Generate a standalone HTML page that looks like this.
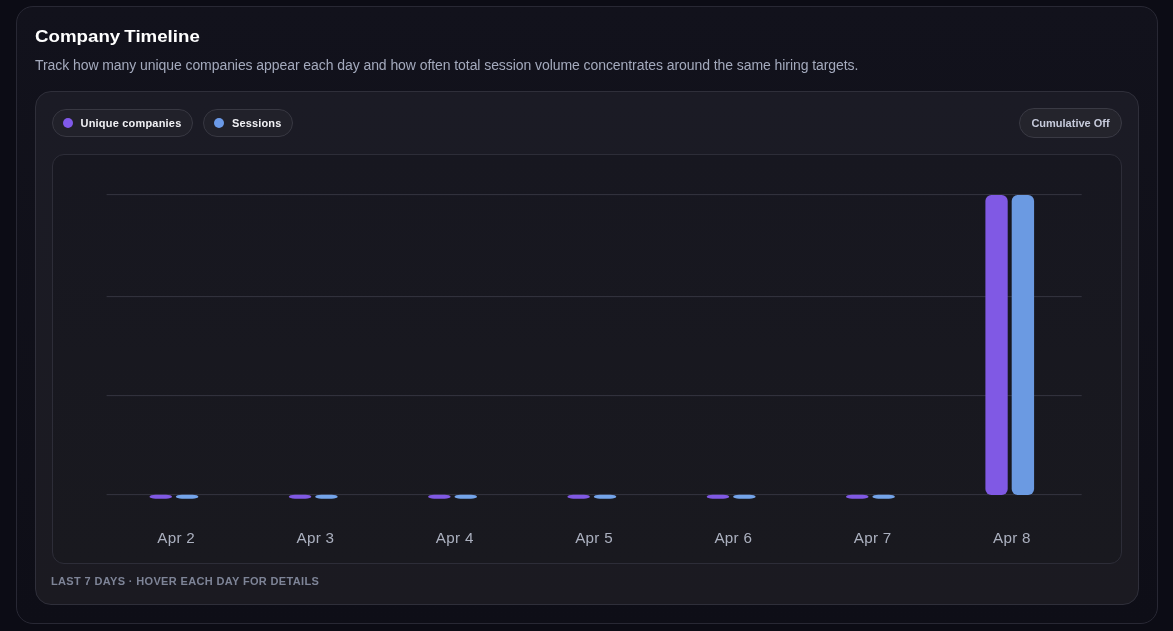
<!DOCTYPE html>
<html>
<head>
<meta charset="utf-8">
<style>
  html, body { margin: 0; padding: 0; }
  body {
    width: 1173px; height: 631px; overflow: hidden;
    background: #0c0c15;
    font-family: "Liberation Sans", sans-serif;
    position: relative;
  }
  .title, .sub, .pill, .btn, .foot, svg { will-change: transform; }
  .outer {
    position: absolute; left: 16px; top: 6px;
    width: 1142px; height: 618px; box-sizing: border-box;
    border: 1px solid #282834; border-radius: 17px;
    background: linear-gradient(180deg, #12121c 0%, #0e0e17 100%);
  }
  .title {
    position: absolute; left: 34.5px; top: 25.5px;
    font-size: 17px; font-weight: 700; color: #ffffff;
    letter-spacing: 0; transform: scaleX(1.1); word-spacing: -1px; transform-origin: 0 0; line-height: 22px; white-space: nowrap;
  }
  .sub {
    position: absolute; left: 35px; top: 57px;
    font-size: 14px; color: #a4aabd; letter-spacing: -0.07px;
    line-height: 17px; white-space: nowrap;
  }
  .inner {
    position: absolute; left: 35px; top: 91px;
    width: 1104px; height: 514px; box-sizing: border-box;
    border: 1px solid #2f2f3a; border-radius: 16px;
    background: linear-gradient(180deg, #1b1b25 0%, #1b1a21 100%);
  }
  .pill {
    position: absolute; top: 109px; height: 28px; box-sizing: border-box;
    border: 1px solid #383842; border-radius: 14px; background: #21212a;
    font-size: 11px; font-weight: 700; color: #f2f2f6; white-space: nowrap;
  }
  .pill .dot { position: absolute; top: 8px; width: 10px; height: 10px; border-radius: 50%; }
  .pill .lbl { position: absolute; top: 0; line-height: 26px; }
  .btn {
    position: absolute; left: 1019px; top: 108px; width: 103px; height: 30px; box-sizing: border-box;
    border: 1px solid #3a3a44; border-radius: 15px; background: #24242c;
    font-size: 11px; font-weight: 700; color: #c6cadb; white-space: nowrap;
    text-align: center; line-height: 28px;
  }
  .chart {
    position: absolute; left: 52px; top: 154px;
    width: 1070px; height: 410px; box-sizing: border-box;
    border: 1px solid #2d2d38; border-radius: 12px;
    background: linear-gradient(180deg, #171720 0%, #19191f 100%);
  }
  svg { position: absolute; left: 0; top: 0; }
  .foot {
    position: absolute; left: 51px; top: 575px;
    font-size: 11px; font-weight: 700; color: #7e8497; letter-spacing: 0.35px;
    line-height: 13px; white-space: nowrap;
  }
</style>
</head>
<body>
  <div class="outer"></div>
  <div class="title">Company Timeline</div>
  <div class="sub">Track how many unique companies appear each day and how often total session volume concentrates around the same hiring targets.</div>
  <div class="inner"></div>

  <div class="pill" style="left:52px;width:141px;">
    <span class="dot" style="left:10px;background:#8059ea;"></span>
    <span class="lbl" style="left:27.5px;letter-spacing:0.2px;">Unique companies</span>
  </div>
  <div class="pill" style="left:203px;width:90px;">
    <span class="dot" style="left:10px;background:#6b9ae8;"></span>
    <span class="lbl" style="left:28px;letter-spacing:0.15px;">Sessions</span>
  </div>
  <div class="btn">Cumulative Off</div>

  <div class="chart"></div>

  <svg width="1173" height="631" viewBox="0 0 1173 631">
    <g stroke="#34343f" stroke-width="1">
      <line x1="106.6" y1="194.6" x2="1081.7" y2="194.6"/>
      <line x1="106.6" y1="296.6" x2="1081.7" y2="296.6"/>
      <line x1="106.6" y1="395.6" x2="1081.7" y2="395.6"/>
      <line x1="106.6" y1="494.6" x2="1081.7" y2="494.6"/>
    </g>
    <g id="bars"></g>
    <g font-family="Liberation Sans" font-size="15.2" fill="#abb0bf" letter-spacing="0.3" text-anchor="middle">
      <text x="176.15" y="543.2">Apr 2</text>
      <text x="315.45" y="543.2">Apr 3</text>
      <text x="454.75" y="543.2">Apr 4</text>
      <text x="594.05" y="543.2">Apr 5</text>
      <text x="733.35" y="543.2">Apr 6</text>
      <text x="872.65" y="543.2">Apr 7</text>
      <text x="1011.95" y="543.2">Apr 8</text>
    </g>
    <g>
      <rect x="149.5" y="494.7" width="22.5" height="4" rx="6" fill="#8059e4"/>
      <rect x="175.9" y="494.7" width="22.5" height="4" rx="6" fill="#74a4ea"/>
      <rect x="288.8" y="494.7" width="22.5" height="4" rx="6" fill="#8059e4"/>
      <rect x="315.2" y="494.7" width="22.5" height="4" rx="6" fill="#74a4ea"/>
      <rect x="428.1" y="494.7" width="22.5" height="4" rx="6" fill="#8059e4"/>
      <rect x="454.5" y="494.7" width="22.5" height="4" rx="6" fill="#74a4ea"/>
      <rect x="567.4" y="494.7" width="22.5" height="4" rx="6" fill="#8059e4"/>
      <rect x="593.8" y="494.7" width="22.5" height="4" rx="6" fill="#74a4ea"/>
      <rect x="706.7" y="494.7" width="22.5" height="4" rx="6" fill="#8059e4"/>
      <rect x="733.1" y="494.7" width="22.5" height="4" rx="6" fill="#74a4ea"/>
      <rect x="846.0" y="494.7" width="22.5" height="4" rx="6" fill="#8059e4"/>
      <rect x="872.4" y="494.7" width="22.5" height="4" rx="6" fill="#74a4ea"/>
      <rect x="985.4" y="195" width="22.3" height="300" rx="6" fill="#8059e4"/>
      <rect x="1011.7" y="195" width="22.4" height="300" rx="6" fill="#6b9ae2"/>
    </g>
  </svg>

  <div class="foot">LAST 7 DAYS · HOVER EACH DAY FOR DETAILS</div>
</body>
</html>
